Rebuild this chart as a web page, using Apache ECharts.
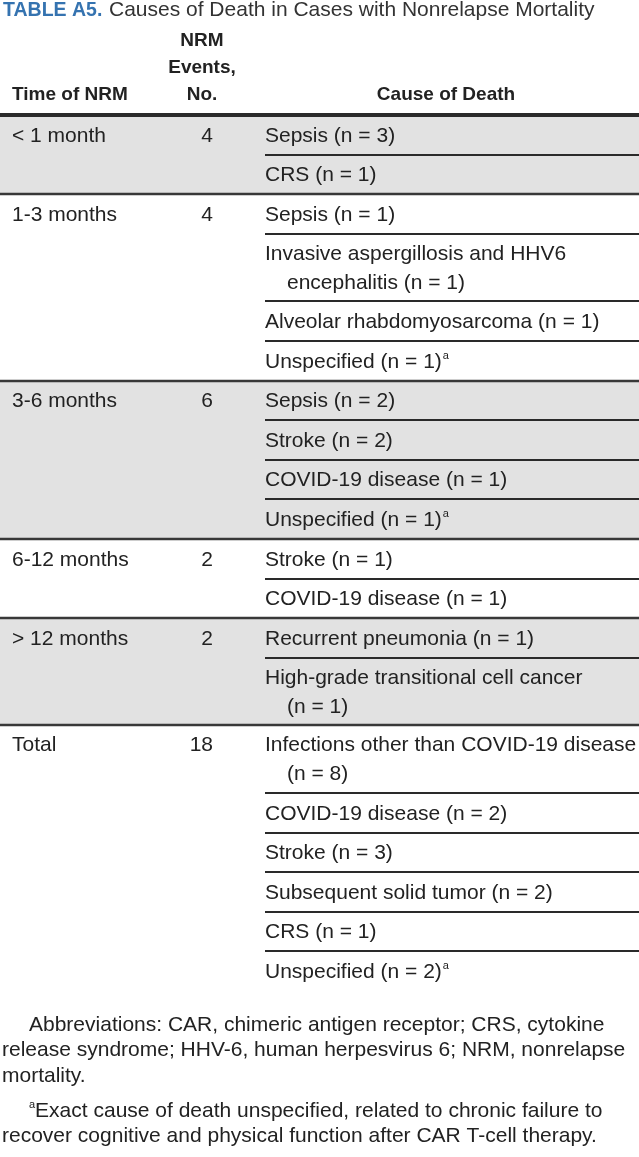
<!DOCTYPE html>
<html><head><meta charset="utf-8">
<script src="https://cdn.jsdelivr.net/npm/echarts/dist/echarts.min.js"></script>
<style>html,body{margin:0;padding:0;background:#fff}#c{width:639px;height:1157px}</style>
</head><body><div id="c"></div>
<script>
// ---------------- data ----------------
const titleLabel = 'TABLE A5.';
const titleText = 'Causes of Death in Cases with Nonrelapse Mortality';
const headerTime = 'Time of NRM';
const headerEvents = ['NRM', 'Events,', 'No.'];
const headerCause = 'Cause of Death';
const timeLabels = ['< 1 month', '1-3 months', '3-6 months', '6-12 months', '> 12 months', 'Total'];
const nrmEvents = [4, 4, 6, 2, 2, 18];
const causeLines = [
  [['Sepsis (n = 3)'], ['CRS (n = 1)']],
  [['Sepsis (n = 1)'], ['Invasive aspergillosis and HHV6', 'encephalitis (n = 1)'], ['Alveolar rhabdomyosarcoma (n = 1)'], ['Unspecified (n = 1)']],
  [['Sepsis (n = 2)'], ['Stroke (n = 2)'], ['COVID-19 disease (n = 1)'], ['Unspecified (n = 1)']],
  [['Stroke (n = 1)'], ['COVID-19 disease (n = 1)']],
  [['Recurrent pneumonia (n = 1)'], ['High-grade transitional cell cancer', '(n = 1)']],
  [['Infections other than COVID-19 disease', '(n = 8)'], ['COVID-19 disease (n = 2)'], ['Stroke (n = 3)'], ['Subsequent solid tumor (n = 2)'], ['CRS (n = 1)'], ['Unspecified (n = 2)']]
];
const causeNotes = [
  ['', ''],
  ['', '', '', 'a'],
  ['', '', '', 'a'],
  ['', ''],
  ['', ''],
  ['', '', '', '', '', 'a']
];
const abbreviationLines = [
  'Abbreviations: CAR, chimeric antigen receptor; CRS, cytokine',
  'release syndrome; HHV-6, human herpesvirus 6; NRM, nonrelapse',
  'mortality.'
];
const footnoteMark = 'a';
const footnoteLines = [
  'Exact cause of death unspecified, related to chronic failure to',
  'recover cognitive and physical function after CAR T-cell therapy.'
];

// ---------------- layout / style ----------------
const W = 639;
const FONT = "'Liberation Sans', Arial, sans-serif";
const FS = 21;
const TXT = '#222';
const GRAY = '#e2e2e2';
const TABLE_TOP = 115;
const ROW_PAD = 11.6, LINE_UNIT = 28, TEXT_LH = 29;
const COL1_X = 12, COL2_RIGHT = 213, COL3_X = 265, INDENT = 22;

// rows, positions derived from line counts
const rows = [];
let yAcc = 0;
causeLines.forEach((grp, g) => {
  grp.forEach((lines, r) => {
    const h = ROW_PAD + LINE_UNIT * lines.length;
    rows.push([g, r, yAcc, yAcc + h]);
    yAcc += h;
  });
});
const TOTAL_H = yAcc;

function renderItem(params, api) {
  const g = api.value(0), r = api.value(1);
  const p0 = api.coord([0, api.value(2)]);
  const p1 = api.coord([W, api.value(3)]);
  const top = Math.round(p0[1]), bottom = Math.round(p1[1]), h = bottom - top;
  const lines = causeLines[g][r];
  const note = causeNotes[g][r];
  const children = [];
  if (g % 2 === 0) {
    children.push({type: 'rect', shape: {x: p0[0], y: top, width: p1[0] - p0[0], height: h + 0.5}, style: {fill: GRAY}});
  }
  const firstY = top + h / 2 - (lines.length - 1) * TEXT_LH / 2 + 1;
  const x3 = api.coord([COL3_X, 0])[0];
  lines.forEach((ln, i) => {
    const isLast = i === lines.length - 1;
    const txt = (isLast && note) ? '{n|' + ln + '}{s|' + note + '}' : '{n|' + ln + '}';
    children.push({
      type: 'text',
      style: {
        x: x3 + (i > 0 ? INDENT : 0), y: firstY + i * TEXT_LH,
        text: txt, textAlign: 'left', textVerticalAlign: 'middle',
        rich: {
          n: {fontSize: FS, fontFamily: FONT, fill: TXT, lineHeight: 24},
          s: {fontSize: 11, fontFamily: FONT, fill: TXT, verticalAlign: 'top', lineHeight: 24, padding: [0, 0, 0, 1]}
        }
      }
    });
  });
  if (r === 0) {
    children.push({type: 'text', style: {x: api.coord([COL1_X, 0])[0], y: firstY, text: timeLabels[g], fontSize: FS, fontFamily: FONT, fill: TXT, textAlign: 'left', textVerticalAlign: 'middle'}});
    children.push({type: 'text', style: {x: api.coord([COL2_RIGHT, 0])[0], y: firstY, text: String(nrmEvents[g]), fontSize: FS, fontFamily: FONT, fill: TXT, textAlign: 'right', textVerticalAlign: 'middle'}});
  }
  // top rule
  if (r === 0 && g === 0) {
    children.push({type: 'line', shape: {x1: p0[0], y1: top, x2: p1[0], y2: top}, style: {stroke: '#2a2a2a', lineWidth: 4}});
  } else if (r === 0) {
    children.push({type: 'line', shape: {x1: p0[0], y1: top, x2: p1[0], y2: top}, style: {stroke: '#383838', lineWidth: 2.6}});
  } else {
    children.push({type: 'line', shape: {x1: x3, y1: top, x2: p1[0], y2: top}, style: {stroke: '#2a2a2a', lineWidth: 2.2}});
  }
  return {type: 'group', children};
}

const graphics = [];
// title
graphics.push({type: 'text', left: 3, top: 0, style: {
  text: '{a|' + titleLabel + '}  {b|' + titleText + '}',
  rich: {
    a: {fontSize: 19.5, fontWeight: 'bold', fontFamily: FONT, fill: '#3573b0'},
    b: {fontSize: 21, fontFamily: FONT, fill: '#333'}
  }
}});
// header
const HFS = 19;
headerEvents.forEach((t, i) => {
  graphics.push({type: 'text', x: 202, y: 41 + i * 27, style: {text: t, fontSize: HFS, fontWeight: 'bold', fontFamily: FONT, fill: TXT, textAlign: 'center', textVerticalAlign: 'middle'}});
});
graphics.push({type: 'text', x: 12, y: 95, style: {text: headerTime, fontSize: HFS, fontWeight: 'bold', fontFamily: FONT, fill: TXT, textAlign: 'left', textVerticalAlign: 'middle'}});
graphics.push({type: 'text', x: 446, y: 95, style: {text: headerCause, fontSize: HFS, fontWeight: 'bold', fontFamily: FONT, fill: TXT, textAlign: 'center', textVerticalAlign: 'middle'}});
// footnotes
const FFS = 21;
abbreviationLines.forEach((t, i) => {
  graphics.push({type: 'text', x: i === 0 ? 29 : 2, y: 1025 + i * 25.5, style: {text: t, fontSize: FFS, fontFamily: FONT, fill: TXT, textVerticalAlign: 'middle'}});
});
footnoteLines.forEach((t, i) => {
  const txt = i === 0 ? '{s|' + footnoteMark + '}{n|' + t + '}' : '{n|' + t + '}';
  graphics.push({type: 'text', x: i === 0 ? 29 : 2, y: 1111 + i * 25.5, style: {text: txt, textVerticalAlign: 'middle',
    rich: {n: {fontSize: FFS, fontFamily: FONT, fill: TXT, lineHeight: 24}, s: {fontSize: 11, fontFamily: FONT, fill: TXT, verticalAlign: 'top', lineHeight: 24}}}});
});

const chart = echarts.init(document.getElementById('c'), null, {renderer: 'canvas'});
chart.setOption({
  animation: false,
  backgroundColor: '#fff',
  grid: {left: 0, right: 0, top: TABLE_TOP, height: TOTAL_H},
  xAxis: {type: 'value', min: 0, max: W, show: false},
  yAxis: {type: 'value', min: 0, max: TOTAL_H, inverse: true, show: false},
  graphic: graphics,
  series: [{
    type: 'custom',
    renderItem: renderItem,
    data: rows,
    clip: false,
    silent: true
  }]
});
</script></body></html>
